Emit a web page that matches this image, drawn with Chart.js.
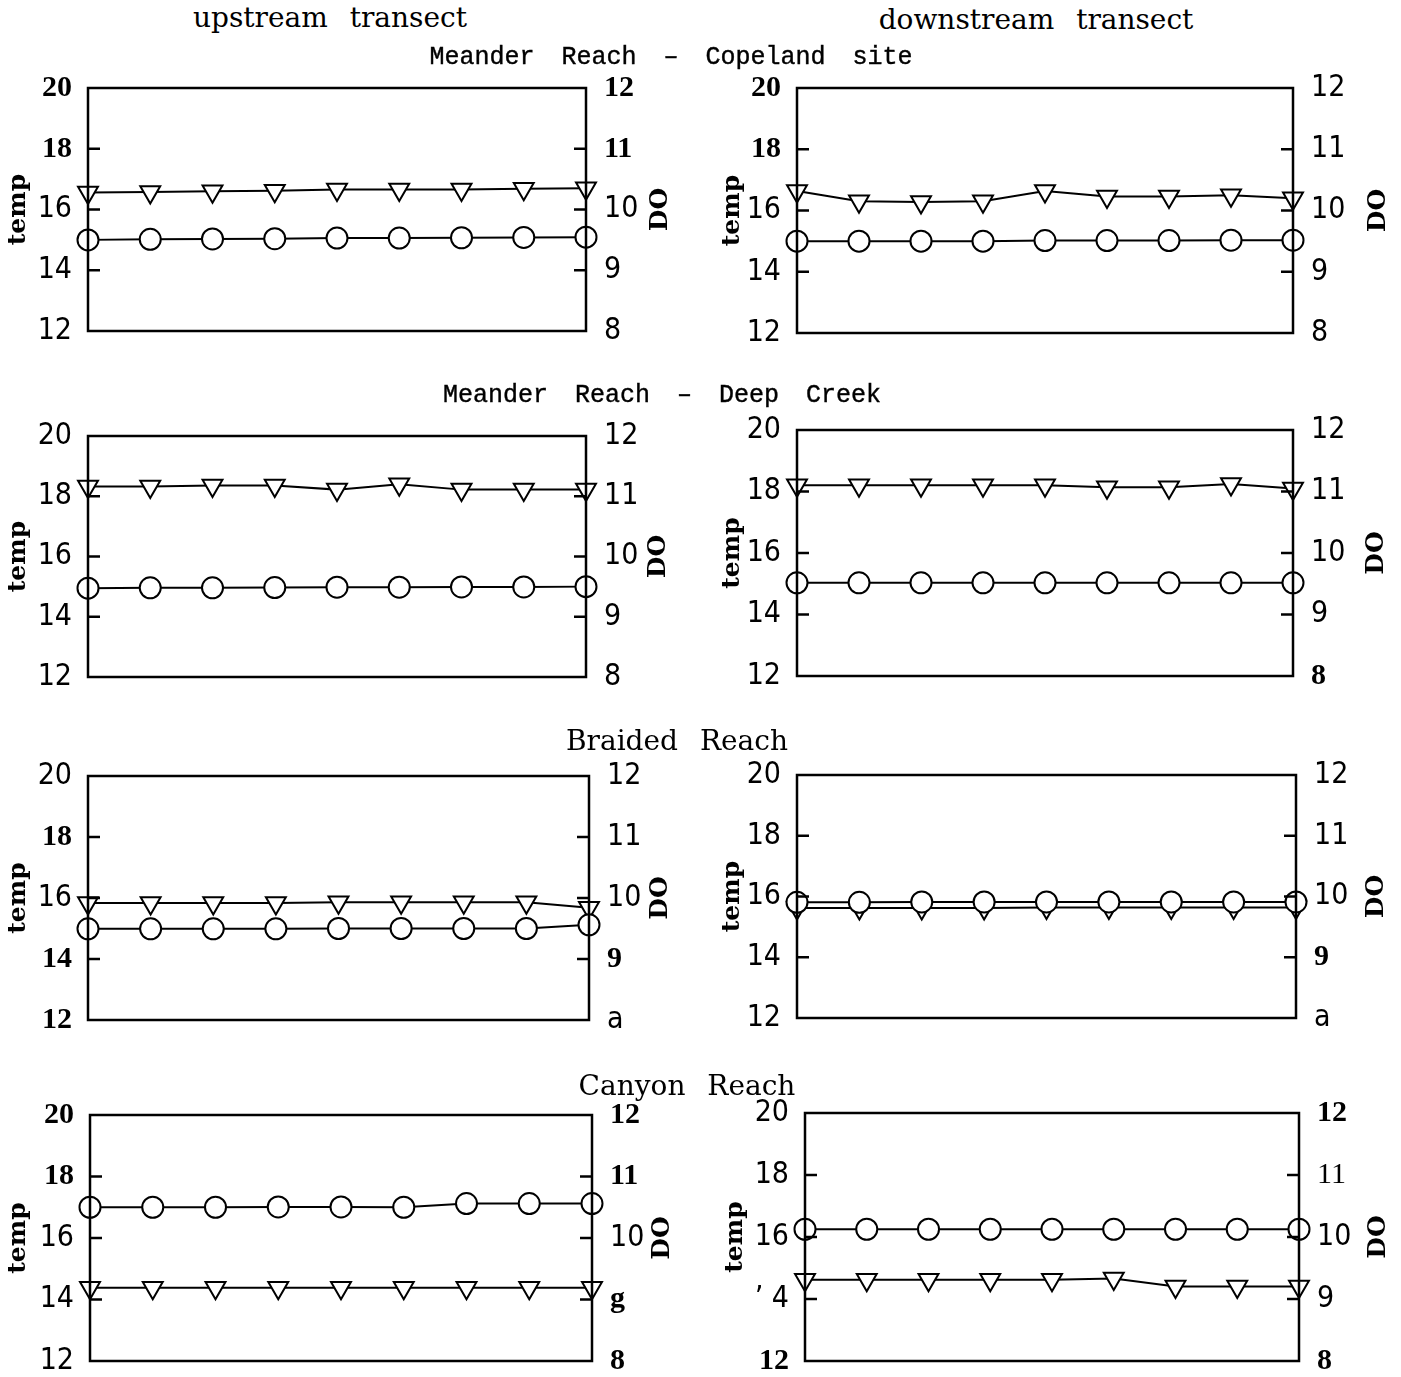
<!DOCTYPE html>
<html><head><meta charset="utf-8">
<script src="https://cdn.jsdelivr.net/npm/chart.js@4"></script>
<style>
html,body{margin:0;padding:0;background:#fff;}
#wrap{position:relative;width:1401px;height:1377px;overflow:hidden;background:#fff;}
canvas{position:absolute;}
.hd{position:absolute;white-space:pre;line-height:1;transform:translateX(-50%);color:#000;z-index:2;}
.serif{font-family:"DejaVu Serif",serif;font-size:28px;word-spacing:13px;}
.mono{font-family:"Liberation Mono","DejaVu Sans Mono",monospace;font-size:25px;word-spacing:12px;-webkit-text-stroke:0.4px #000;}
</style></head>
<body><div id="wrap">
<div class="hd serif" style="left:330px;top:4px">upstream transect</div>
<div class="hd serif" style="left:1036px;top:6px">downstream transect</div>
<div class="hd mono" style="left:671px;top:45px">Meander Reach – Copeland site</div>
<div class="hd mono" style="left:662px;top:383px">Meander Reach – Deep Creek</div>
<div class="hd serif" style="left:677px;top:727px">Braided Reach</div>
<div class="hd serif" style="left:687px;top:1072px">Canyon Reach</div>
</div>
<script>
// ---- data ----
const stations = ['1','2','3','4','5','6','7','8','9'];
const tempTicks = [12, 14, 16, 18, 20];
const doTicks = [8, 9, 10, 11, 12];

const tempTickLabels = ['12', '14', '16', '18', '20'];
const doTickLabels = ['8', '9', '10', '11', '12'];
const braidedDOTickLabels = ['a', '9', '10', '11', '12'];
const canyonUpDOTickLabels = ['8', 'g', '10', '11', '12'];
const canyonDownTempTickLabels = ['12', '\u2019 4', '16', '18', '20'];

const copelandUpTemp = [15.00, 15.02, 15.03, 15.04, 15.06, 15.06, 15.07, 15.08, 15.09];
const copelandUpDO   = [10.28, 10.29, 10.30, 10.31, 10.33, 10.33, 10.33, 10.34, 10.35];
const copelandDownTemp = [15.00, 15.00, 15.00, 15.00, 15.02, 15.02, 15.02, 15.03, 15.03];
const copelandDownDO   = [10.32, 10.15, 10.14, 10.15, 10.32, 10.23, 10.23, 10.25, 10.20];

const deepUpTemp = [14.95, 14.96, 14.96, 14.97, 14.98, 14.98, 14.99, 14.99, 15.00];
const deepUpDO   = [11.16, 11.16, 11.18, 11.18, 11.11, 11.20, 11.11, 11.11, 11.11];
const deepDownTemp = [15.03, 15.03, 15.03, 15.03, 15.03, 15.03, 15.03, 15.03, 15.03];
const deepDownDO   = [11.10, 11.10, 11.10, 11.10, 11.10, 11.07, 11.07, 11.12, 11.05];

const braidedUpTemp = [14.99, 14.99, 14.99, 14.99, 15.00, 15.00, 15.00, 15.00, 15.12];
const braidedUpDO   = [9.92, 9.92, 9.92, 9.92, 9.93, 9.93, 9.93, 9.93, 9.84];
const braidedDownTemp = [15.81, 15.81, 15.82, 15.82, 15.82, 15.82, 15.82, 15.82, 15.82];
const braidedDownDO   = [9.81, 9.81, 9.81, 9.81, 9.82, 9.82, 9.82, 9.82, 9.82];

const canyonUpTemp = [17.00, 17.00, 17.00, 17.01, 17.01, 17.00, 17.12, 17.12, 17.12];
const canyonUpDO   = [9.19, 9.19, 9.19, 9.19, 9.19, 9.19, 9.19, 9.19, 9.19];
const canyonDownTemp = [16.25, 16.25, 16.25, 16.25, 16.25, 16.25, 16.25, 16.25, 16.25];
const canyonDownDO   = [9.31, 9.31, 9.31, 9.31, 9.31, 9.33, 9.20, 9.20, 9.20];

// ---- layout / style (not data) ----
// font style codes per tick: 0 = sans narrow, 1 = bold serif, 2 = plain serif
const panels = [
  {temp: copelandUpTemp, dO: copelandUpDO, tLab: tempTickLabels, dLab: doTickLabels,
   tSty: [0,0,0,1,1], dSty: [0,0,0,1,1], col: 0, L: 88, R: 586, T: 88, B: 331, doOff: 74},
  {temp: copelandDownTemp, dO: copelandDownDO, tLab: tempTickLabels, dLab: doTickLabels,
   tSty: [0,0,0,1,1], dSty: [0,0,0,0,0], col: 1, L: 797, R: 1293, T: 88, B: 333, doOff: 85},
  {temp: deepUpTemp, dO: deepUpDO, tLab: tempTickLabels, dLab: doTickLabels,
   tSty: [0,0,0,0,0], dSty: [0,0,0,0,0], col: 0, L: 88, R: 586, T: 436, B: 677, doOff: 72},
  {temp: deepDownTemp, dO: deepDownDO, tLab: tempTickLabels, dLab: doTickLabels,
   tSty: [0,0,0,0,0], dSty: [1,0,0,0,0], col: 1, L: 797, R: 1293, T: 430, B: 676, doOff: 83},
  {temp: braidedUpTemp, dO: braidedUpDO, tLab: tempTickLabels, dLab: braidedDOTickLabels,
   tSty: [1,1,0,1,0], dSty: [0,1,0,0,0], col: 0, L: 88, R: 589, T: 776, B: 1020, doOff: 71},
  {temp: braidedDownTemp, dO: braidedDownDO, tLab: tempTickLabels, dLab: braidedDOTickLabels,
   tSty: [0,0,0,0,0], dSty: [0,1,0,0,0], col: 1, L: 797, R: 1296, T: 775, B: 1018, doOff: 80},
  {temp: canyonUpTemp, dO: canyonUpDO, tLab: tempTickLabels, dLab: canyonUpDOTickLabels,
   tSty: [0,0,0,1,1], dSty: [1,1,0,1,1], col: 0, L: 90, R: 592, T: 1115, B: 1361, doOff: 70},
  {temp: canyonDownTemp, dO: canyonDownDO, tLab: canyonDownTempTickLabels, dLab: doTickLabels,
   tSty: [1,0,0,0,0], dSty: [1,0,0,2,1], col: 1, L: 805, R: 1299, T: 1113, B: 1361, doOff: 79}
];

const FONT_SANS = {family: '"Liberation Sans Narrow","DejaVu Sans Condensed","Liberation Sans",sans-serif', size: 30, weight: 'normal'};
const FONT_BSERIF = {family: '"Liberation Serif",serif', size: 30, weight: 'bold'};
const FONT_SERIF = {family: '"Liberation Serif",serif', size: 30, weight: 'normal'};
const fontFor = code => code === 1 ? FONT_BSERIF : (code === 2 ? FONT_SERIF : FONT_SANS);

const framePlugin = {
  id: 'frame',
  afterDatasetsDraw(chart, args, opts) {
    const {ctx, chartArea: a, scales} = chart;
    ctx.save();
    ctx.strokeStyle = '#000';
    ctx.lineWidth = 2.5;
    ctx.strokeRect(a.left, a.top, a.right - a.left, a.bottom - a.top);
    [14, 16, 18].forEach(v => {
      const y = scales.yT.getPixelForValue(v);
      ctx.beginPath(); ctx.moveTo(a.left, y); ctx.lineTo(a.left + 12, y); ctx.stroke();
    });
    [9, 10, 11].forEach(v => {
      const y = scales.yD.getPixelForValue(v);
      ctx.beginPath(); ctx.moveTo(a.right - 12, y); ctx.lineTo(a.right, y); ctx.stroke();
    });
    ctx.translate(a.right + opts.doOffset, (a.top + a.bottom) / 2);
    ctx.rotate(-Math.PI / 2);
    ctx.font = 'bold 25px "DejaVu Serif", serif';
    ctx.fillStyle = '#000';
    ctx.textAlign = 'center';
    ctx.textBaseline = 'middle';
    ctx.fillText('DO', 0, 0);
    ctx.restore();
  }
};

const wrap = document.getElementById('wrap');
const PAD = 46;

panels.forEach(p => {
  const cx = p.col === 0 ? 0 : 700;
  const cw = p.col === 0 ? 700 : 701;
  const ch = p.B - p.T + 2 * PAD;
  const cv = document.createElement('canvas');
  cv.width = cw; cv.height = ch;
  cv.style.left = cx + 'px'; cv.style.top = (p.T - PAD) + 'px';
  cv.style.width = cw + 'px'; cv.style.height = ch + 'px';
  wrap.appendChild(cv);
  const leftW = p.L - cx;
  const rightW = cx + cw - p.R;
  const titlePad = p.col === 0 ? 3 : (p.L - cx > 100 ? 20 : 17);

  new Chart(cv.getContext('2d'), {
    type: 'line',
    data: {
      labels: stations,
      datasets: [
        {data: p.temp, yAxisID: 'yT', borderColor: '#000', borderWidth: 2,
         pointStyle: 'circle', pointRadius: 10.5, pointBackgroundColor: '#fff',
         pointBorderColor: '#000', pointBorderWidth: 2, tension: 0, fill: false, clip: false},
        {data: p.dO, yAxisID: 'yD', borderColor: '#000', borderWidth: 2,
         pointStyle: 'triangle', pointRotation: 180, pointRadius: 11.5, pointBackgroundColor: '#fff',
         pointBorderColor: '#000', pointBorderWidth: 2, tension: 0, fill: false, clip: false}
      ]
    },
    options: {
      responsive: false, animation: false, devicePixelRatio: 1,
      layout: {padding: {top: PAD, bottom: PAD, left: 0, right: 0}},
      plugins: {legend: {display: false}, tooltip: {enabled: false}, frame: {doOffset: p.doOff}},
      scales: {
        x: {display: false, offset: false},
        yT: {
          position: 'left', min: 12, max: 20,
          afterBuildTicks: s => { s.ticks = tempTicks.map(v => ({value: v})); },
          afterFit: s => { s.width = leftW; },
          grid: {display: false, drawTicks: false},
          border: {display: false},
          ticks: {
            padding: 16, color: '#000',
            callback: (v) => { const i = tempTicks.indexOf(v); return i >= 0 ? p.tLab[i] : ''; },
            font: ctx => fontFor(p.tSty[ctx.index])
          },
          title: {display: true, text: 'temp', color: '#000',
                  font: {family: '"DejaVu Serif",serif', weight: 'bold', size: 25},
                  padding: {top: titlePad, bottom: 0}}
        },
        yD: {
          position: 'right', min: 8, max: 12,
          afterBuildTicks: s => { s.ticks = doTicks.map(v => ({value: v})); },
          afterFit: s => { s.width = rightW; },
          grid: {display: false, drawTicks: false},
          border: {display: false},
          ticks: {
            padding: 18, color: '#000',
            callback: (v) => { const i = doTicks.indexOf(v); return i >= 0 ? p.dLab[i] : ''; },
            font: ctx => fontFor(p.dSty[ctx.index])
          }
        }
      }
    },
    plugins: [framePlugin]
  });
});
</script>
</body></html>
